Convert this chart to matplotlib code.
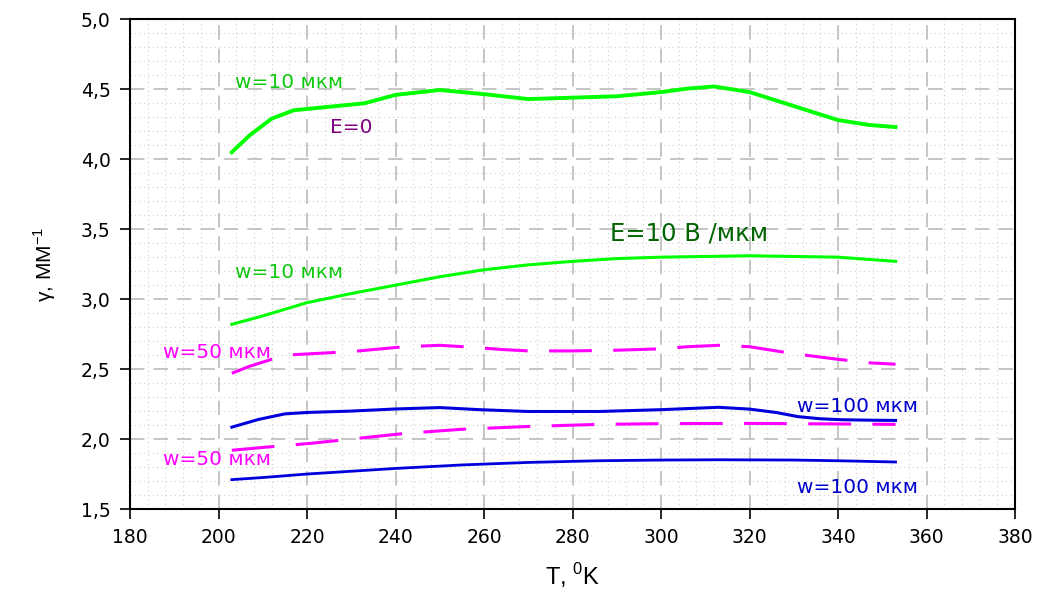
import matplotlib
matplotlib.use("Agg")
import matplotlib.pyplot as plt
from matplotlib.ticker import MultipleLocator, FuncFormatter

plt.rcParams['font.family'] = ['DejaVu Sans']

# E=0 curves
T_w10_e0 = [203, 207, 212, 217, 225, 233, 240, 250, 260, 270, 280, 290, 300, 306, 312, 320, 330, 340, 347, 353]
g_w10_e0 = [4.05, 4.17, 4.29, 4.35, 4.375, 4.40, 4.46, 4.495, 4.465, 4.43, 4.44, 4.45, 4.48, 4.505, 4.52, 4.48, 4.38, 4.28, 4.245, 4.23]

T_w50_e0 = [203, 207, 211, 215, 221, 230, 242, 250, 258, 264, 270, 280, 290, 300, 306, 313, 320, 330, 340, 347, 353]
g_w50_e0 = [2.47, 2.52, 2.56, 2.60, 2.61, 2.625, 2.66, 2.67, 2.655, 2.64, 2.63, 2.63, 2.635, 2.645, 2.66, 2.67, 2.66, 2.61, 2.57, 2.545, 2.535]

T_w100_e0 = [203, 209, 215, 220, 230, 240, 250, 259, 270, 286, 300, 313, 320, 326, 331, 336, 341, 347, 353]
g_w100_e0 = [2.085, 2.14, 2.18, 2.19, 2.20, 2.215, 2.225, 2.21, 2.197, 2.197, 2.21, 2.227, 2.214, 2.19, 2.16, 2.145, 2.138, 2.135, 2.133]

# E=10 V/um curves
T_w10_e10 = [203, 210, 220, 230, 240, 250, 260, 270, 280, 290, 300, 310, 320, 330, 340, 353]
g_w10_e10 = [2.82, 2.88, 2.975, 3.04, 3.10, 3.16, 3.21, 3.245, 3.27, 3.29, 3.30, 3.305, 3.31, 3.305, 3.30, 3.27]

T_w50_e10 = [203, 210, 221, 230, 242, 255, 270, 286, 300, 320, 340, 353]
g_w50_e10 = [1.92, 1.94, 1.97, 2.00, 2.04, 2.07, 2.09, 2.105, 2.11, 2.112, 2.108, 2.105]

T_w100_e10 = [203, 210, 220, 230, 240, 255, 270, 286, 300, 313, 330, 340, 353]
g_w100_e10 = [1.71, 1.725, 1.75, 1.77, 1.79, 1.815, 1.833, 1.845, 1.85, 1.852, 1.85, 1.845, 1.836]

green = '#00FF00'
magenta = '#FF00FF'
blue = '#0000DD'

fig = plt.figure(figsize=(10.37, 5.89), dpi=100)
ax = fig.add_axes([0.1254, 0.1358, 0.8534, 0.8314])

ax.plot(T_w10_e0, g_w10_e0, color=green, lw=2.8)
ax.plot(T_w10_e10, g_w10_e10, color=green, lw=2.2)
ax.plot(T_w50_e0, g_w50_e0, color=magenta, lw=2.2, dashes=(14, 7))
ax.plot(T_w50_e10, g_w50_e10, color=magenta, lw=2.2, dashes=(14, 7))
ax.plot(T_w100_e0, g_w100_e0, color=blue, lw=2.2)
ax.plot(T_w100_e10, g_w100_e10, color=blue, lw=2.0)

ax.set_xlim(180, 380)
ax.set_ylim(1.5, 5.0)
ax.xaxis.set_major_locator(MultipleLocator(20))
ax.xaxis.set_minor_locator(MultipleLocator(4))
ax.yaxis.set_major_locator(MultipleLocator(0.5))
ax.yaxis.set_minor_locator(MultipleLocator(0.1))
ax.yaxis.set_major_formatter(FuncFormatter(lambda v, p: f"{v:.1f}".replace('.', ',')))

ax.grid(which='major', color='#C0C0C0', lw=1.3, dashes=(8, 5))
ax.grid(which='minor', color='#D0D0D0', lw=0.8, linestyle=(0, (1, 3)))
ax.set_axisbelow(True)
ax.tick_params(which='minor', length=0)
ax.tick_params(which='major', direction='out', length=7, width=1.2, labelsize=13.5, pad=7)
for s in ax.spines.values():
    s.set_linewidth(1.5)
    s.set_color('black')

ax.set_xlabel(r"T, $^{\mathregular{0}}$K", fontsize=17, labelpad=10,
              family=['Liberation Sans Narrow', 'Liberation Sans'])
ax.set_ylabel(r"γ, ММ$^{\mathregular{-1}}$", fontsize=15, labelpad=16,
              family=['Liberation Sans', 'DejaVu Sans'])

fs = 14.5
ax.text(203.7, 4.55, "w=10 мкм", color='#10C810', fontsize=fs, va='center')
ax.text(225.2, 4.23, "E=0", color='#800080', fontsize=fs, va='center')
ax.text(288.5, 3.47, "E=10 В /мкм", color='#006400', fontsize=17.5, va='center')
ax.text(203.7, 3.19, "w=10 мкм", color='#10C810', fontsize=fs, va='center')
ax.text(187.5, 2.62, "w=50 мкм", color=magenta, fontsize=fs, va='center')
ax.text(187.5, 1.855, "w=50 мкм", color=magenta, fontsize=fs, va='center')
ax.text(330.7, 2.23, "w=100 мкм", color='#0000CC', fontsize=fs, va='center')
ax.text(330.7, 1.655, "w=100 мкм", color='#0000CC', fontsize=fs, va='center')

fig.savefig("out.png", dpi=100)
